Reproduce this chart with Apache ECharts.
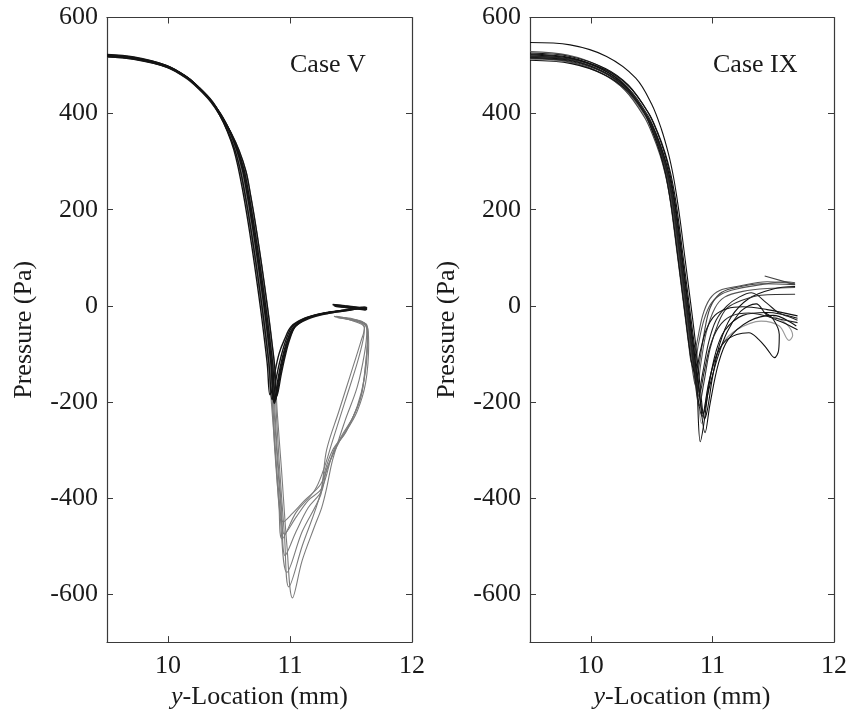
<!DOCTYPE html>
<html>
<head>
<meta charset="utf-8">
<script src="https://cdn.jsdelivr.net/npm/echarts@6/dist/echarts.min.js"></script>
<style>
  html, body { margin: 0; padding: 0; background: #fff; }
  #chart { width: 850px; height: 715px; }
</style>
</head>
<body>
<div id="chart"></div>
<script>
// Axis ranges and tick labels
const xTicks = [10, 11, 12];
const yTicks = [-600, -400, -200, 0, 200, 400, 600];
const xRange = [9.5, 12];
const yRange = [-700, 600];
const panelTitles = ['Case V', 'Case IX'];

// Case V: pressure profiles [y-location (mm), pressure (Pa)]
// shallow-dip profiles (black)
const caseV_b1 = [[9.5,521],[9.72,516],[9.99,499],[10.15,476],[10.25,454],[10.35,427],[10.422,398],[10.485,364],[10.538,326],[10.58,282],[10.615,236],[10.645,192],[10.67,152],[10.695,110],[10.72,66],[10.745,20],[10.77,-28],[10.795,-80],[10.815,-125],[10.835,-185],[10.85,-178],[10.875,-140],[10.91,-100],[10.955,-70],[11.01,-43],[11.12,-26],[11.28,-15],[11.45,-9],[11.6,-4],[11.63,-7],[11.48,-3],[11.36,0]];
const caseV_b2 = [[9.5,519],[9.72,514],[9.99,497],[10.15,474],[10.25,452],[10.35,425],[10.426,396],[10.492,362],[10.549,324],[10.595,280],[10.63,234],[10.66,190],[10.685,150],[10.71,108],[10.735,64],[10.76,18],[10.785,-30],[10.81,-82],[10.83,-127],[10.852,-195],[10.866,-185],[10.889,-148],[10.927,-105],[10.967,-71],[11.02,-43],[11.13,-25],[11.29,-15],[11.46,-9],[11.61,-3],[11.62,-6],[11.46,-1],[11.35,2]];
const caseV_b3 = [[9.5,522],[9.72,517],[9.99,500],[10.15,477],[10.25,455],[10.35,428],[10.43,399],[10.5,365],[10.56,327],[10.61,283],[10.645,237],[10.675,193],[10.7,153],[10.725,111],[10.75,67],[10.775,21],[10.8,-27],[10.825,-79],[10.845,-124],[10.866,-200],[10.879,-190],[10.903,-150],[10.937,-108],[10.977,-72],[11.03,-44],[11.14,-26],[11.3,-16],[11.46,-10],[11.59,-6],[11.62,-9],[11.47,-4],[11.37,-1]];
const caseV_b4 = [[9.5,520],[9.72,515],[9.99,498],[10.16,475],[10.26,453],[10.36,426],[10.434,397],[10.508,363],[10.571,325],[10.625,281],[10.66,235],[10.69,191],[10.715,151],[10.74,109],[10.765,65],[10.79,19],[10.815,-29],[10.84,-81],[10.86,-126],[10.878,-197],[10.892,-186],[10.917,-148],[10.952,-106],[10.992,-70],[11.047,-42],[11.16,-24],[11.32,-14],[11.48,-8],[11.61,-5],[11.63,-8],[11.47,-3],[11.36,1]];
const caseV_b5 = [[9.5,518],[9.72,513],[10.0,496],[10.16,473],[10.26,451],[10.36,424],[10.438,395],[10.515,361],[10.583,323],[10.64,279],[10.675,233],[10.705,189],[10.73,149],[10.755,107],[10.78,63],[10.805,17],[10.83,-31],[10.855,-83],[10.875,-128],[10.89,-188],[10.903,-178],[10.928,-143],[10.962,-103],[11.0,-68],[11.05,-41],[11.18,-22],[11.34,-13],[11.5,-7],[11.62,-3],[11.63,-5],[11.45,0],[11.35,3]];
const caseV_b6 = [[9.5,523],[9.72,518],[9.98,501],[10.14,479],[10.24,457],[10.34,430],[10.431,400],[10.503,366],[10.564,328],[10.615,284],[10.65,238],[10.68,194],[10.705,154],[10.73,112],[10.755,68],[10.78,22],[10.805,-26],[10.83,-78],[10.85,-123],[10.87,-203],[10.884,-192],[10.908,-152],[10.942,-110],[10.982,-73],[11.035,-45],[11.15,-27],[11.31,-16],[11.47,-10],[11.6,-5],[11.62,-8],[11.48,-4],[11.37,-1]];
// deep-dip profiles (grey)
const caseV_g1 = [[9.5,519],[9.72,514],[9.99,497],[10.15,474],[10.25,452],[10.35,425],[10.425,396],[10.49,362],[10.545,324],[10.59,280],[10.625,234],[10.655,190],[10.68,150],[10.705,108],[10.73,64],[10.755,18],[10.78,-30],[10.805,-82],[10.825,-127],[10.85,-210],[10.87,-275],[10.905,-380],[10.945,-450],[11.02,-432],[11.12,-405],[11.25,-372],[11.33,-322],[11.42,-272],[11.52,-230],[11.59,-180],[11.625,-110],[11.635,-60],[11.62,-38],[11.5,-28],[11.38,-22]];
const caseV_g2 = [[9.5,520],[9.72,515],[9.99,498],[10.15,475],[10.25,453],[10.35,426],[10.43,397],[10.5,363],[10.56,325],[10.61,281],[10.645,235],[10.675,191],[10.7,151],[10.725,109],[10.75,65],[10.775,19],[10.8,-29],[10.825,-81],[10.845,-126],[10.865,-200],[10.89,-300],[10.92,-400],[10.955,-475],[11.05,-440],[11.15,-405],[11.26,-380],[11.36,-300],[11.46,-262],[11.55,-210],[11.61,-150],[11.635,-80],[11.63,-45],[11.52,-30],[11.4,-24]];
const caseV_g3 = [[9.5,521],[9.72,516],[9.99,499],[10.16,475],[10.26,453],[10.36,426],[10.433,397],[10.505,363],[10.568,325],[10.62,281],[10.655,235],[10.685,191],[10.71,151],[10.735,109],[10.76,65],[10.785,19],[10.81,-29],[10.835,-81],[10.855,-126],[10.875,-210],[10.895,-300],[10.93,-420],[10.96,-520],[11.05,-470],[11.15,-420],[11.26,-385],[11.3,-340],[11.4,-285],[11.5,-240],[11.58,-190],[11.62,-120],[11.64,-55],[11.6,-34],[11.48,-28],[11.37,-23]];
const caseV_g4 = [[9.5,518],[9.72,513],[9.99,496],[10.15,473],[10.25,451],[10.35,424],[10.428,395],[10.495,361],[10.553,323],[10.6,279],[10.635,233],[10.665,189],[10.69,149],[10.715,107],[10.74,63],[10.765,17],[10.79,-31],[10.815,-83],[10.835,-128],[10.855,-200],[10.875,-300],[10.92,-440],[10.975,-555],[11.1,-470],[11.25,-395],[11.28,-350],[11.35,-300],[11.45,-265],[11.55,-220],[11.62,-160],[11.645,-80],[11.63,-40],[11.5,-30],[11.39,-25]];
const caseV_g5 = [[9.5,520],[9.72,515],[9.99,498],[10.16,475],[10.26,453],[10.36,426],[10.435,396],[10.51,362],[10.575,324],[10.63,280],[10.665,234],[10.695,190],[10.72,150],[10.745,108],[10.77,64],[10.795,18],[10.82,-30],[10.845,-82],[10.865,-127],[10.885,-210],[10.91,-320],[10.955,-480],[10.99,-585],[11.1,-500],[11.25,-390],[11.3,-300],[11.4,-220],[11.5,-140],[11.58,-75],[11.61,-46],[11.55,-30],[11.42,-24]];
const caseV_g6 = [[9.5,519],[9.72,514],[10.0,497],[10.17,473],[10.27,451],[10.37,424],[10.438,395],[10.515,361],[10.583,323],[10.64,279],[10.675,233],[10.705,189],[10.73,149],[10.755,107],[10.78,63],[10.805,17],[10.83,-31],[10.855,-83],[10.875,-128],[10.895,-220],[10.93,-340],[10.975,-500],[11.02,-608],[11.1,-530],[11.2,-460],[11.26,-420],[11.3,-380],[11.35,-320],[11.45,-240],[11.55,-170],[11.61,-100],[11.63,-50],[11.58,-33],[11.45,-26],[11.36,-22]];
const caseV_g7 = [[9.5,521],[9.72,516],[9.99,499],[10.15,476],[10.25,454],[10.35,427],[10.429,398],[10.498,364],[10.556,326],[10.605,282],[10.64,236],[10.67,192],[10.695,152],[10.72,110],[10.745,66],[10.77,20],[10.795,-28],[10.82,-80],[10.84,-125],[10.86,-210],[10.88,-300],[10.91,-420],[10.935,-485],[11.05,-430],[11.2,-385],[11.27,-345],[11.35,-280],[11.45,-200],[11.55,-120],[11.6,-70],[11.61,-45],[11.5,-30],[11.4,-25]];

// Case IX: pressure profiles [y-location (mm), pressure (Pa)]
const caseIX_1 = [[9.5,548],[9.83,543],[10.13,519],[10.37,474],[10.5,420],[10.58,368],[10.64,315],[10.68,268],[10.71,222],[10.735,178],[10.76,128],[10.785,78],[10.81,28],[10.835,-22],[10.86,-75],[10.9,-170],[10.935,-235],[10.96,-215],[11.0,-150],[11.06,-80],[11.15,-25],[11.3,15],[11.5,35],[11.68,40]];
const caseIX_2 = [[9.5,526],[9.83,519],[10.12,494],[10.31,459],[10.47,403],[10.54,365],[10.6,323],[10.645,281],[10.675,243],[10.7,203],[10.72,165],[10.745,115],[10.77,65],[10.795,15],[10.82,-35],[10.845,-85],[10.87,-150],[10.9,-283],[10.93,-245],[10.975,-160],[11.03,-95],[11.1,-52],[11.25,-20],[11.45,-14],[11.7,-26]];
const caseIX_3 = [[9.5,522],[9.83,515],[10.13,490],[10.32,455],[10.48,399],[10.55,361],[10.61,319],[10.655,277],[10.685,239],[10.71,199],[10.73,161],[10.755,111],[10.78,61],[10.805,11],[10.83,-39],[10.855,-89],[10.885,-160],[10.94,-264],[10.98,-205],[11.05,-120],[11.13,-70],[11.3,-32],[11.5,-20],[11.69,-42]];
const caseIX_4 = [[9.5,519],[9.83,512],[10.1,488],[10.29,453],[10.45,397],[10.52,359],[10.58,317],[10.625,275],[10.655,237],[10.68,197],[10.7,159],[10.725,109],[10.75,59],[10.775,9],[10.8,-41],[10.825,-91],[10.855,-150],[10.89,-208],[10.93,-160],[10.98,-90],[11.05,-35],[11.12,-5],[11.25,12],[11.4,22],[11.68,24]];
const caseIX_5 = [[9.5,515],[9.82,508],[10.09,484],[10.28,449],[10.44,393],[10.51,355],[10.57,313],[10.615,271],[10.645,233],[10.67,193],[10.69,155],[10.715,105],[10.74,55],[10.765,5],[10.79,-45],[10.815,-95],[10.84,-140],[10.862,-167],[10.89,-125],[10.93,-60],[10.98,-5],[11.06,25],[11.16,36],[11.41,46],[11.68,44],[11.43,62]];
const caseIX_6 = [[9.5,529],[9.81,522],[10.08,498],[10.27,463],[10.43,407],[10.5,369],[10.56,327],[10.605,285],[10.635,247],[10.66,207],[10.68,169],[10.705,119],[10.73,69],[10.755,19],[10.78,-31],[10.805,-81],[10.83,-120],[10.87,-80],[10.92,-20],[10.98,15],[11.06,32],[11.2,40],[11.45,50],[11.68,46]];
const caseIX_7 = [[9.5,517],[9.84,510],[10.11,486],[10.3,451],[10.46,395],[10.53,357],[10.59,315],[10.635,273],[10.665,235],[10.69,195],[10.71,157],[10.735,107],[10.76,57],[10.785,7],[10.81,-43],[10.835,-93],[10.865,-160],[10.915,-230],[10.97,-160],[11.03,-105],[11.1,-75],[11.2,-60],[11.3,-56],[11.38,-70],[11.45,-90],[11.51,-108],[11.545,-92],[11.55,-60],[11.5,-28],[11.43,-14]];
const caseIX_8 = [[9.5,520],[9.84,513],[10.115,489],[10.305,454],[10.465,398],[10.535,360],[10.595,318],[10.64,276],[10.67,238],[10.695,198],[10.715,160],[10.74,110],[10.765,60],[10.79,10],[10.815,-40],[10.84,-90],[10.865,-150],[10.88,-190],[10.92,-140],[10.97,-75],[11.03,-30],[11.12,0],[11.22,18],[11.32,27],[11.45,5],[11.54,-14],[11.62,-22],[11.7,-30]];
const caseIX_9 = [[9.5,513],[9.83,506],[10.1,482],[10.29,447],[10.455,391],[10.525,353],[10.585,311],[10.63,269],[10.66,231],[10.685,191],[10.705,153],[10.73,103],[10.755,53],[10.78,3],[10.805,-47],[10.83,-97],[10.86,-160],[10.885,-205],[10.91,-245],[10.95,-190],[11.0,-130],[11.08,-80],[11.2,-50],[11.4,-32],[11.55,-42],[11.63,-72],[11.66,-62],[11.61,-38],[11.5,-22]];
const caseIX_10 = [[9.5,524],[9.82,517],[10.09,493],[10.28,458],[10.44,402],[10.505,364],[10.565,322],[10.61,280],[10.64,242],[10.665,202],[10.685,164],[10.71,114],[10.735,64],[10.76,14],[10.785,-36],[10.81,-86],[10.835,-125],[10.86,-140],[10.9,-95],[10.95,-50],[11.02,-20],[11.12,-6],[11.25,-2],[11.45,-8],[11.7,-21]];
const caseIX_11 = [[9.5,511],[9.84,504],[10.12,480],[10.31,445],[10.475,389],[10.545,351],[10.605,309],[10.65,267],[10.68,229],[10.705,189],[10.725,151],[10.75,101],[10.775,51],[10.8,1],[10.825,-49],[10.85,-99],[10.88,-160],[10.925,-225],[10.97,-175],[11.04,-110],[11.12,-55],[11.22,-15],[11.3,0],[11.36,4],[11.45,-20],[11.58,-35],[11.7,-50]];
const caseIX_12 = [[9.5,520],[9.81,513],[10.08,489],[10.27,454],[10.445,398],[10.515,360],[10.575,318],[10.62,276],[10.65,238],[10.675,198],[10.695,160],[10.72,110],[10.745,60],[10.77,10],[10.795,-40],[10.82,-90],[10.84,-115],[10.852,-125],[10.885,-80],[10.93,-30],[10.99,5],[11.08,25],[11.2,35],[11.4,44],[11.6,50],[11.68,48]];
const caseIX_13 = [[9.5,516],[9.83,509],[10.11,485],[10.3,450],[10.46,394],[10.53,356],[10.59,314],[10.635,272],[10.665,234],[10.69,194],[10.71,156],[10.735,106],[10.76,56],[10.785,6],[10.81,-44],[10.835,-94],[10.865,-150],[10.895,-182],[10.93,-140],[10.98,-85],[11.05,-45],[11.15,-22],[11.3,-15],[11.5,-25],[11.7,-35]];
const caseIX_14 = [[9.5,523],[9.82,516],[10.1,492],[10.29,457],[10.45,401],[10.52,363],[10.58,321],[10.625,279],[10.655,241],[10.68,201],[10.7,163],[10.725,113],[10.75,63],[10.775,13],[10.8,-37],[10.825,-87],[10.85,-140],[10.872,-175],[10.905,-120],[10.95,-55],[11.02,-5],[11.1,18],[11.25,30],[11.45,36],[11.68,38]];

const FONT = '"Liberation Serif", "Times New Roman", serif';
const INK = '#1a1a1a';
const FRAME = '#3a3a3a';
const FS = 26;

const caseVGrey = [caseV_g1, caseV_g2, caseV_g3, caseV_g4, caseV_g5, caseV_g6, caseV_g7];
const caseVBlack = [caseV_b1, caseV_b2, caseV_b3, caseV_b4, caseV_b5, caseV_b6];
const caseIXLines = [
  { d: caseIX_9, c: '#9a9a9a' },
  { d: caseIX_6, c: '#555555' },
  { d: caseIX_12, c: '#555555' },
  { d: caseIX_5, c: '#444444' },
  { d: caseIX_14, c: '#555555' },
  { d: caseIX_1, c: '#111111' },
  { d: caseIX_2, c: '#111111' },
  { d: caseIX_3, c: '#111111' },
  { d: caseIX_4, c: '#333333' },
  { d: caseIX_7, c: '#111111' },
  { d: caseIX_8, c: '#222222' },
  { d: caseIX_10, c: '#111111' },
  { d: caseIX_11, c: '#111111' },
  { d: caseIX_13, c: '#222222' }
];

const grids = [
  { left: 107, width: 305, top: 17.5, bottom: 72 },
  { left: 530, width: 306, top: 17.5, bottom: 72 }
];

function bottomAxis(gi) {
  return {
    type: 'value', gridIndex: gi, position: 'bottom',
    min: xRange[0], max: xRange[1],
    name: '{i|y}-Location (mm)', nameLocation: 'middle', nameGap: 40,
    nameTextStyle: { fontFamily: FONT, fontSize: FS, color: INK,
      rich: { i: { fontFamily: FONT, fontSize: FS, fontStyle: 'italic', color: INK } } },
    axisLine: { show: true, onZero: false, lineStyle: { color: FRAME, width: 1.2 } },
    axisTick: { show: true, inside: true, length: 6, customValues: xTicks, lineStyle: { color: FRAME } },
    axisLabel: { show: true, customValues: xTicks, margin: 11, fontFamily: FONT, fontSize: FS, color: INK },
    splitLine: { show: false }
  };
}
function topAxis(gi) {
  return {
    type: 'value', gridIndex: gi, position: 'top',
    min: xRange[0], max: xRange[1],
    axisLine: { show: true, onZero: false, lineStyle: { color: FRAME, width: 1.2 } },
    axisTick: { show: true, inside: true, length: 6, customValues: [10, 11], lineStyle: { color: FRAME } },
    axisLabel: { show: false },
    splitLine: { show: false }
  };
}
function leftAxis(gi) {
  return {
    type: 'value', gridIndex: gi, position: 'left',
    min: yRange[0], max: yRange[1],
    name: 'Pressure (Pa)', nameLocation: 'middle', nameGap: 70, nameRotate: 90,
    nameTextStyle: { fontFamily: FONT, fontSize: FS, color: INK },
    axisLine: { show: true, onZero: false, lineStyle: { color: FRAME, width: 1.2 } },
    axisTick: { show: true, inside: true, length: 6, customValues: yTicks, lineStyle: { color: FRAME } },
    axisLabel: { show: true, customValues: yTicks, margin: 9, fontFamily: FONT, fontSize: FS, color: INK },
    splitLine: { show: false }
  };
}
function rightAxis(gi) {
  return {
    type: 'value', gridIndex: gi, position: 'right',
    min: yRange[0], max: yRange[1],
    axisLine: { show: true, onZero: false, lineStyle: { color: FRAME, width: 1.2 } },
    axisTick: { show: true, inside: true, length: 6, customValues: [-600, -400, -200, 0, 200, 400], lineStyle: { color: FRAME } },
    axisLabel: { show: false },
    splitLine: { show: false }
  };
}

function lineSeries(data, color, xi, yi, width) {
  return {
    type: 'line', data: data, xAxisIndex: xi, yAxisIndex: yi,
    showSymbol: false, symbol: 'none', smooth: 0.35, silent: true,
    lineStyle: { color: color, width: width || 1.1 },
    animation: false
  };
}

const series = [];
caseVGrey.forEach(d => series.push(lineSeries(d, '#7c7c7c', 0, 0, 1.1)));
caseVBlack.forEach(d => series.push(lineSeries(d, '#141414', 0, 0, 1.4)));
caseIXLines.forEach(o => series.push(lineSeries(o.d, o.c, 2, 2, 1.1)));

const chart = echarts.init(document.getElementById('chart'), null, { renderer: 'canvas' });
chart.setOption({
  backgroundColor: '#ffffff',
  animation: false,
  grid: grids,
  xAxis: [bottomAxis(0), topAxis(0), bottomAxis(1), topAxis(1)],
  yAxis: [leftAxis(0), rightAxis(0), leftAxis(1), rightAxis(1)],
  graphic: [
    { type: 'text', left: 290, top: 52, style: { text: panelTitles[0], fontFamily: FONT, fontSize: FS, fill: INK } },
    { type: 'text', left: 713, top: 52, style: { text: panelTitles[1], fontFamily: FONT, fontSize: FS, fill: INK } }
  ],
  series: series
});
</script>
</body>
</html>
